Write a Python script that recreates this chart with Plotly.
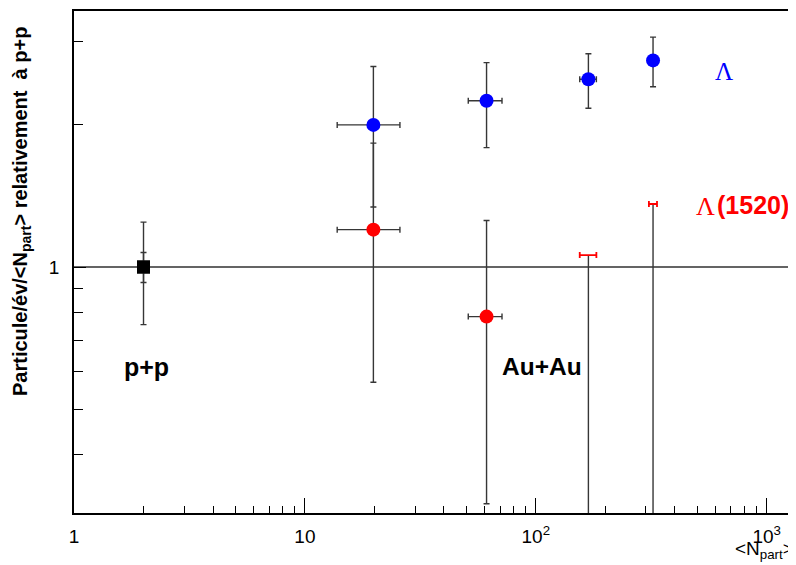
import plotly.graph_objects as go

# ---- data ----
npart_auau = [19.8, 61.2, 169.0, 322.0]
npart_err = [6.0, 10.2, 14.0, 13.0]

lambda_ratio = [2.00, 2.25, 2.50, 2.74]
lambda_err = [0.66, 0.46, 0.33, 0.33]

l1520_npart = [19.8, 61.2]
l1520_ratio = [1.20, 0.785]
l1520_err = [0.63, 0.47]
l1520_npart_err = [6.0, 10.2]

# two central bins: only the upper edge of the error bar is visible
l1520_lim_npart = [169.0, 322.0]
l1520_lim_top = [1.06, 1.36]
l1520_lim_err_lo = [0.96, 1.26]
l1520_lim_npart_err = [14.0, 13.0]

pp_npart = [2.0]
pp_ratio = [1.0]
pp_err_syst = [0.245]
pp_err_stat = [0.073]

x_tickvals = [1, 10, 100, 1000]
x_ticktext = ["1", "10", "10<sup>2</sup>", "10<sup>3</sup>"]
x_minor = [2, 3, 4, 5, 6, 7, 8, 9, 20, 30, 40, 50, 60, 70, 80, 90,
           200, 300, 400, 500, 600, 700, 800, 900]
y_tickvals = [1]
y_ticktext = ["1"]
y_minor = [0.4, 0.5, 0.6, 0.7, 0.8, 0.9, 2, 3]

ERRC = "#363636"

fig = go.Figure()

# p+p
fig.add_trace(go.Scatter(
    x=pp_npart, y=pp_ratio, mode="markers",
    marker=dict(symbol="square", size=13, color="black"),
    error_y=dict(type="data", array=pp_err_syst, color=ERRC, thickness=1.4, width=3),
    showlegend=False))
fig.add_trace(go.Scatter(
    x=pp_npart, y=pp_ratio, mode="markers",
    marker=dict(symbol="square", size=13, color="black"),
    error_y=dict(type="data", array=pp_err_stat, color=ERRC, thickness=1.4, width=3),
    showlegend=False))

# Lambda(1520) limits
fig.add_trace(go.Scatter(
    x=l1520_lim_npart, y=l1520_lim_top, mode="markers",
    marker=dict(size=1, color="rgba(0,0,0,0)"),
    error_y=dict(type="data", symmetric=False, array=[0, 0],
                 arrayminus=l1520_lim_err_lo, color=ERRC, thickness=1.4, width=0),
    error_x=dict(type="data", array=l1520_lim_npart_err, color="red", thickness=1.8, width=3),
    showlegend=False))

# Lambda(1520)
fig.add_trace(go.Scatter(
    x=l1520_npart, y=l1520_ratio, mode="markers",
    marker=dict(symbol="circle", size=14, color="red"),
    error_y=dict(type="data", array=l1520_err, color=ERRC, thickness=1.4, width=3),
    error_x=dict(type="data", array=l1520_npart_err, color=ERRC, thickness=1.4, width=3),
    showlegend=False))

# Lambda
fig.add_trace(go.Scatter(
    x=npart_auau, y=lambda_ratio, mode="markers",
    marker=dict(symbol="circle", size=14, color="blue"),
    error_y=dict(type="data", array=lambda_err, color=ERRC, thickness=1.4, width=3),
    error_x=dict(type="data", array=npart_err, color=ERRC, thickness=1.4, width=3),
    showlegend=False))

fig.add_shape(type="line", xref="paper", yref="y", x0=0, x1=1, y0=1, y1=1,
              line=dict(color="#303030", width=1.4), layer="below")

# page body has an 8px margin: figure is shifted by OFF in the screenshot
OFF = 8
SW, SH = 796, 565
W, H = SW - OFF, SH - OFF
# plot area in screen pixels
PL, PR, PT, PB = 74, 796, 11, 513
L, R, T, B = PL - OFF, SW - PR, PT - OFF, SH - PB
pw, ph = PR - PL, PB - PT


def px(xs):
    return (xs - PL) / pw


def py(ys):
    return (PB - ys) / ph


ann = []
ann.append(dict(x=px(21), y=py(212), xref="paper", yref="paper", showarrow=False,
                text="<b>Particule/év/&lt;N<sub>part</sub>&gt; relativement  à p+p</b>",
                textangle=-90, font=dict(family="Liberation Sans", size=20, color="black"),
                xanchor="center", yanchor="middle"))
ann.append(dict(x=px(796), y=py(550), xref="paper", yref="paper", showarrow=False,
                text="&lt;N<sub>part</sub>&gt;", xanchor="right", yanchor="middle",
                font=dict(family="Liberation Sans", size=19, color="black")))
ann.append(dict(x=px(146), y=py(367), xref="paper", yref="paper", showarrow=False,
                xanchor="center", yanchor="middle",
                text="<b>p+p</b>", font=dict(family="Liberation Sans", size=25, color="black")))
ann.append(dict(x=px(542), y=py(366), xref="paper", yref="paper", showarrow=False,
                xanchor="center", yanchor="middle",
                text="<b>Au+Au</b>", font=dict(family="Liberation Sans", size=24.5, color="black")))
ann.append(dict(x=px(724), y=py(71), xref="paper", yref="paper", showarrow=False,
                xanchor="center", yanchor="middle",
                text="Λ", font=dict(family="Liberation Serif", size=25, color="blue")))
ann.append(dict(x=px(705), y=py(206), xref="paper", yref="paper", showarrow=False,
                xanchor="center", yanchor="middle",
                text="Λ", font=dict(family="Liberation Serif", size=26, color="red")))
ann.append(dict(x=px(753), y=py(205), xref="paper", yref="paper", showarrow=False,
                xanchor="center", yanchor="middle",
                text="<b>(1520)</b>", font=dict(family="Liberation Sans", size=25, color="red")))

fig.update_layout(
    width=W, height=H,
    margin=dict(l=L, r=R, t=T, b=B, pad=0, autoexpand=False),
    paper_bgcolor="white", plot_bgcolor="white",
    annotations=ann,
    xaxis=dict(type="log", range=[0, 3.127], showgrid=False, zeroline=False,
               automargin=False,
               showline=True, linecolor="black", linewidth=1.5, mirror=True,
               ticks="inside", ticklen=15, tickwidth=1.2, tickcolor="black",
               tickmode="array", tickvals=x_tickvals, ticktext=x_ticktext,
               ticklabelstandoff=5,
               tickfont=dict(family="Liberation Sans", size=19, color="black"),
               minor=dict(tickmode="array", tickvals=x_minor, ticks="inside",
                          ticklen=7, tickwidth=1.2, tickcolor="black", showgrid=False)),
    yaxis=dict(type="log", range=[-0.5212, 0.5424], showgrid=False, zeroline=False,
               automargin=False,
               showline=True, linecolor="black", linewidth=1.5, mirror=False,
               ticks="inside", ticklen=12, tickwidth=1.2, tickcolor="black",
               tickmode="array", tickvals=y_tickvals, ticktext=y_ticktext,
               ticklabelstandoff=9,
               tickfont=dict(family="Liberation Sans", size=19, color="black"),
               minor=dict(tickmode="array", tickvals=y_minor, ticks="inside",
                          ticklen=9, tickwidth=1.2, tickcolor="black", showgrid=False)),
)

fig.write_html("out.html")
